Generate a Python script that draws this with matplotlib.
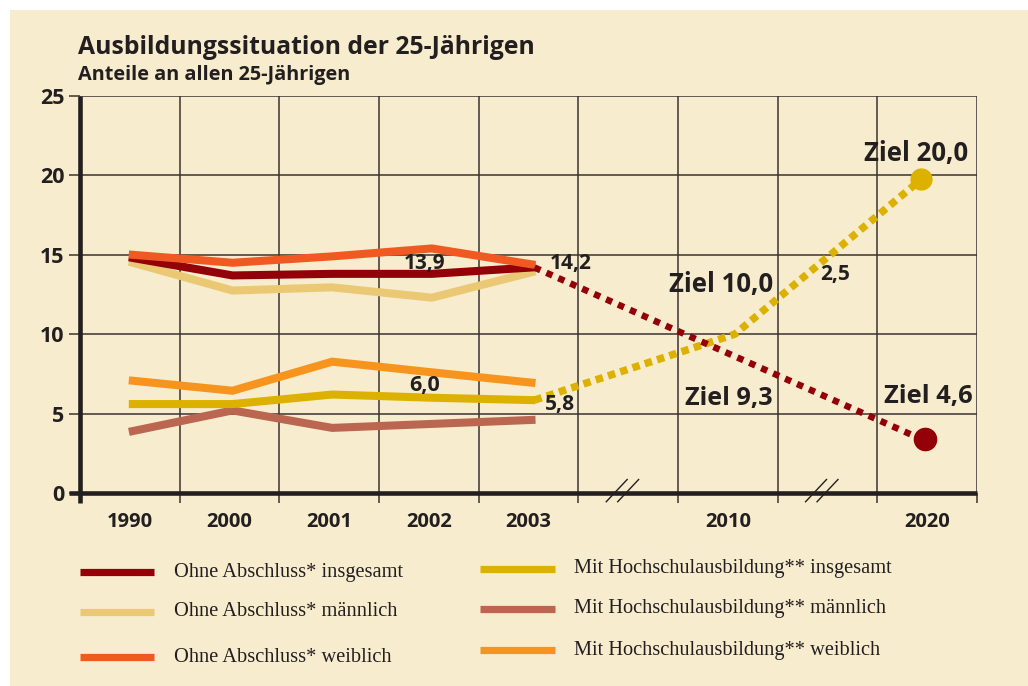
import matplotlib
matplotlib.use("Agg")
import matplotlib.pyplot as plt
from matplotlib.lines import Line2D
from matplotlib.patches import Rectangle
import numpy as np

# ---------------- data ----------------
years_hist = ["1990", "2000", "2001", "2002", "2003"]
years_axis = ["1990", "2000", "2001", "2002", "2003", "2010", "2020"]
year_slots = [0, 1, 2, 3, 4, 6, 8]

ohne_insgesamt = [14.8, 13.7, 13.8, 13.8, 14.2]
ohne_maennlich = [14.5, 12.75, 12.95, 12.3, 13.9]
ohne_weiblich = [15.0, 14.5, 14.9, 15.4, 14.4]
mit_insgesamt = [5.6, 5.6, 6.2, 6.0, 5.85]
mit_maennlich = [3.9, 5.2, 4.1, 4.35, 4.6]
mit_weiblich = [7.07, 6.44, 8.27, 7.6, 6.95]

# projections (2003 -> 2010 -> 2020)
ohne_proj_years = ["2003", "2020"]
ohne_proj = [14.2, 3.4]
mit_proj_years = ["2003", "2010", "2020"]
mit_proj = [5.85, 10.0, 19.75]

yticks = [0, 5, 10, 15, 20, 25]

legend_labels = [
    "Ohne Abschluss* insgesamt",
    "Ohne Abschluss* männlich",
    "Ohne Abschluss* weiblich",
    "Mit Hochschulausbildung** insgesamt",
    "Mit Hochschulausbildung** männlich",
    "Mit Hochschulausbildung** weiblich",
]

# ---------------- style ----------------
BG = "#F7ECCD"
INK = "#231F20"
GRID = "#3A3430"
C_OI = "#930008"
C_OM = "#EBC974"
C_OW = "#F05A22"
C_MI = "#DDB100"
C_MM = "#BA6650"
C_MW = "#F7941D"
colors = [C_OI, C_OM, C_OW, C_MI, C_MM, C_MW]

SANS = ["Open Sans", "DejaVu Sans"]
SERIF = ["Liberation Serif", "DejaVu Serif"]

W, H = 1028, 686
fig = plt.figure(figsize=(W / 100, H / 100), dpi=100, facecolor="white")
fig.patches.append(Rectangle((10 / W, 0), 1, 1 - 10 / H, transform=fig.transFigure,
                             facecolor=BG, edgecolor="none", zorder=-10))

def px(x, y):
    return x / W, 1 - y / H

ax_l, ax_r, ax_t, ax_b = 80, 977, 96, 493
ax = fig.add_axes([ax_l / W, 1 - ax_b / H, (ax_r - ax_l) / W, (ax_b - ax_t) / H])
ax.set_facecolor("none")
ax.set_xlim(0, 9)
ax.set_ylim(0, 25)

for s in ["top", "right", "left", "bottom"]:
    ax.spines[s].set_visible(False)

# grid
ax.set_yticks(yticks)
ax.set_yticklabels([str(v) for v in yticks], fontfamily=SANS, fontweight="bold",
                   fontsize=15.5, color=INK)
ax.set_xticks(np.arange(1, 10))
ax.set_xticklabels([])
ax.set_xticks([s + 0.5 for s in year_slots], minor=True)
ax.set_xticklabels(years_axis, minor=True, fontfamily=SANS, fontweight="bold",
                   fontsize=14.5, color=INK)
ax.tick_params(axis="x", which="major", length=7.5, width=1.1, color=GRID, direction="out")
ax.tick_params(axis="x", which="minor", length=0, pad=14)
ax.tick_params(axis="y", which="major", length=8, width=1.1, color=GRID, direction="out", pad=3)
ax.grid(True, which="major", color=GRID, linewidth=1.1, zorder=0)
ax.set_axisbelow(True)

# thick axes
ax.plot([0, 0], [-0.65, 25], color=INK, lw=3.3, clip_on=False, zorder=6, solid_capstyle="butt")
ax.plot([-0.11, 9], [0, 0], color=INK, lw=3.3, clip_on=False, zorder=6, solid_capstyle="butt")

# axis break marks
for xb in [5.5, 7.5]:
    for off in [-0.05, 0.065]:
        ax.plot([xb - 0.17 + off, xb + 0.04 + off], [-0.55, 0.85], color=INK, lw=1.0,
                clip_on=False, zorder=7)

pos = {y: s + 0.5 for y, s in zip(years_axis, year_slots)}
xh = np.array([pos[y] for y in years_hist]) + 0.03

LW = 5.8
ax.plot(xh, ohne_maennlich, color=C_OM, lw=LW, zorder=3, solid_joinstyle="miter")
ax.plot(xh, ohne_insgesamt, color=C_OI, lw=LW, zorder=3, solid_joinstyle="miter")
ax.plot(xh, ohne_weiblich, color=C_OW, lw=LW, zorder=3, solid_joinstyle="miter")
ax.plot(xh, mit_maennlich, color=C_MM, lw=LW, zorder=3, solid_joinstyle="miter")
ax.plot(xh, mit_insgesamt, color=C_MI, lw=LW, zorder=3, solid_joinstyle="miter")
ax.plot(xh, mit_weiblich, color=C_MW, lw=LW, zorder=3, solid_joinstyle="miter")

# projections
proj_off = {"2003": 0.06, "2010": 0.07, "2020": -0.06}
xm = [pos[y] + proj_off[y] for y in mit_proj_years]
xo = [pos[y] + proj_off[y] for y in ohne_proj_years]
ax.plot(xm, mit_proj, color=C_MI, lw=5.4, ls=(0, (1, 0.72)), dash_capstyle="butt", zorder=4)
ax.plot(xo, ohne_proj, color=C_OI, lw=4.7, ls=(0, (1, 1.0)), dash_capstyle="butt", zorder=4)
ax.plot([xm[-1]], [mit_proj[-1]], "o", color=C_MI, ms=15, zorder=5)
ax.plot([xo[-1] + 0.04], [ohne_proj[-1]], "o", color=C_OI, ms=16, zorder=5)

# annotations (text, x, y, target width px)
anns = [
    ("13,9", 3.46, 14.48, 42),
    ("14,2", 4.92, 14.48, 42),
    ("6,0", 3.46, 6.74, 31),
    ("5,8", 4.82, 5.6, 30),
    ("2,5", 7.58, 13.73, 30),
    ("Ziel 10,0", 6.43, 13.1, 105),
    ("Ziel 9,3", 6.51, 5.92, 88),
    ("Ziel 20,0", 8.39, 21.4, 105),
    ("Ziel 4,6", 8.51, 6.1, 89),
]
ann_objs = []
for s, x, y, w in anns:
    ann_objs.append((ax.text(x, y, s, ha="center", va="center", fontfamily=SANS,
                             fontweight="bold", fontsize=14, color=INK, zorder=8), w))

# title
t1 = fig.text(*px(78, 47), "Ausbildungssituation der 25-Jährigen", ha="left", va="center",
              fontfamily=SANS, fontweight="bold", fontsize=17, color=INK)
t2 = fig.text(*px(78, 75), "Anteile an allen 25-Jährigen", ha="left", va="center",
              fontfamily=SANS, fontweight="bold", fontsize=12, color=INK)

# legend
rows_left = [572, 612, 657]
rows_right = [569, 609, 650]
leg_texts = []
for i, lab in enumerate(legend_labels):
    if i < 3:
        y = rows_left[i]; x0, x1, xt = 80, 154, 174
    else:
        y = rows_right[i - 3]; x0, x1, xt = 480, 555, 574
    fig.add_artist(Line2D([x0 / W, x1 / W], [1 - y / H] * 2, color=colors[i], lw=5.2,
                          solid_capstyle="butt"))
    leg_texts.append(fig.text(*px(xt, y), lab, ha="left", va="center", fontfamily=SERIF,
                              fontsize=13, color=INK))

# fit widths
fig.canvas.draw()
r = fig.canvas.get_renderer()
def fit(t, target):
    w = t.get_window_extent(r).width
    t.set_fontsize(t.get_fontsize() * target / w)
fit(t1, 458)
fit(t2, 272)
fit(leg_texts[0], 228)
for t in leg_texts[1:]:
    t.set_fontsize(leg_texts[0].get_fontsize())
for t, w in ann_objs:
    fit(t, w)

fig.savefig("out.png", dpi=100, facecolor="white")
